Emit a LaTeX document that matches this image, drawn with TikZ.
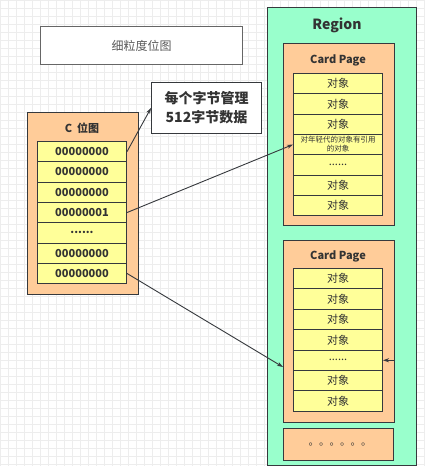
\documentclass[tikz,border=0pt]{standalone}
\usepackage{fontspec}
\setmainfont{Noto Sans CJK SC}
\usepackage{xcolor}
\usetikzlibrary{positioning,arrows.meta}

\definecolor{regiongreen}{HTML}{99FFCC}
\definecolor{pageorange}{HTML}{FFCC99}
\definecolor{cellyellow}{HTML}{FFFF99}
\definecolor{edgegray}{HTML}{36393D}
\definecolor{textgray}{HTML}{333333}

\begin{document}
\begin{tikzpicture}[x=1pt,y=-1pt,
	box/.style={draw=edgegray, line width=1pt, inner sep=0pt, anchor=north west, text=textgray},
	cellbox/.style={box, fill=cellyellow, minimum width=89pt, minimum height=20.3pt, font=\fontsize{11}{12}\selectfont},
	label/.style={font=\bfseries\fontsize{11}{12}\selectfont, text=textgray},
	ptr/.style={draw=edgegray, line width=0.9pt, -{Stealth[length=6pt,width=4pt]}}]
	\def\rowH{20.3}
	\def\gap{......}
	
	% background grid
	\useasboundingbox (0,0) rectangle (425,466);
	\foreach \g in {0,8,...,424}
		\draw[black!7, line width=0.5pt] (\g,0) -- (\g,466);
	\foreach \g in {0,8,...,464}
		\draw[black!7, line width=0.5pt] (0,\g) -- (425,\g);
	
	% title
	\node[box, draw=black!60, fill=white, minimum width=202pt, minimum height=38pt,
		font=\fontsize{12}{14}\selectfont, text=black!65] (title) at (40,26) {细粒度位图};
	
	% card table
	\node[box, fill=pageorange, minimum width=111pt, minimum height=182pt] (cmap) at (27,112) {};
	\node[label] (cname) at (82,128) {C\ \ 位图};
	\foreach \txt [count=\i] in {00000000,00000000,00000000,00000001,\gap,00000000,00000000}
		\node[cellbox, font=\bfseries\fontsize{11}{12}\selectfont] (c\i) at (37,{141+(\i-1)*\rowH}) {\txt};
	
	% note
	\node[box, fill=white, minimum width=110pt, minimum height=51pt, align=center,
		font=\bfseries\fontsize{14}{19}\selectfont] (note) at (151,82) {每个字节管理\\512字节数据};
	
	% region
	\node[box, fill=regiongreen, minimum width=149pt, minimum height=458pt] (region) at (267,7) {};
	\node[label, font=\bfseries\fontsize{14}{16}\selectfont] (rname) at (337,25) {Region};
	
	% first card page
	\node[box, fill=pageorange, minimum width=111pt, minimum height=182pt] (page1) at (283,43) {};
	\node[label] (p1name) at (338,60) {Card Page};
	\foreach \txt [count=\i] in {对象,对象,对象,{},\gap,对象,对象}
		\node[cellbox] (pa\i) at (293,{73+(\i-1)*\rowH}) {\txt};
	\node[align=center, font=\fontsize{7.5}{9}\selectfont, text=textgray] (young) at (pa4.center) {对年轻代的对象有引用\\的对象};
	
	% second card page
	\node[box, fill=pageorange, minimum width=111pt, minimum height=182pt] (page2) at (283,240) {};
	\node[label] (p2name) at (338,256) {Card Page};
	\foreach \txt [count=\i] in {对象,对象,对象,对象,\gap,对象,对象}
		\node[cellbox] (pb\i) at (293,{268+(\i-1)*20.4}) {\txt};
	
	% rest of region
	\node[box, fill=pageorange, minimum width=110pt, minimum height=32pt] (rest) at (283,428) {};
	\node[font=\fontsize{10.5}{12}\selectfont, text=textgray] (dots) at (340,445) {。。。。。。};
	
	% pointers
	\coordinate (hit) at (283,367);
	\coordinate (stub) at (page2.east |- pb5.east);
	\draw[ptr] (c1.east) -- (note.west);
	\draw[ptr] (c4.east) -- (pa4.west);
	\draw[ptr] (c7.east) -- (hit);
	\draw[ptr] (stub) -- (pb5.east);
\end{tikzpicture}
\end{document}
